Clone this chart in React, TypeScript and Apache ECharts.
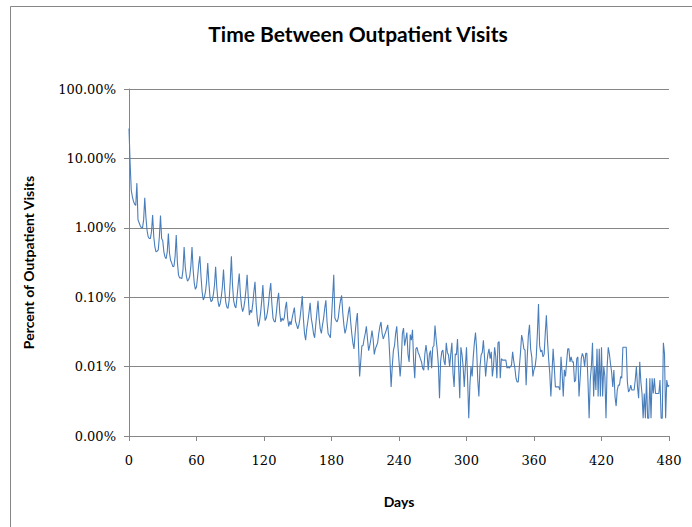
import React, { useEffect, useRef } from "react";
import * as echarts from "echarts";

// Percent of outpatient visits by days between visits (day 0 .. 480)
const pctDays000to059 = [
  27, 8.5, 3.5, 2.8, 2.4, 2.2, 2.1, 4.4, 1.3, 1.18,
  1.07, 1.0, 1.0, 1.3, 2.7, 1.45, 0.93, 0.75, 0.7, 0.7,
  0.88, 1.53, 0.75, 0.53, 0.45, 0.46, 0.48, 0.75, 1.5, 0.7,
  0.65, 0.45, 0.38, 0.36, 0.45, 0.83, 0.43, 0.34, 0.31, 0.275,
  0.28, 0.39, 0.79, 0.32, 0.21, 0.19, 0.19, 0.185, 0.25, 0.53,
  0.275, 0.2, 0.17, 0.18, 0.2, 0.28, 0.53, 0.25, 0.16, 0.13,
];
const pctDays060to119 = [
  0.14, 0.2, 0.3, 0.39, 0.2, 0.12, 0.091, 0.1, 0.12, 0.17,
  0.31, 0.16, 0.1, 0.086, 0.09, 0.11, 0.15, 0.275, 0.14, 0.09,
  0.073, 0.08, 0.1, 0.14, 0.25, 0.13, 0.085, 0.072, 0.069, 0.09,
  0.17, 0.39, 0.15, 0.09, 0.075, 0.07, 0.1, 0.15, 0.22, 0.11,
  0.075, 0.062, 0.07, 0.09, 0.13, 0.21, 0.1, 0.055, 0.065, 0.06,
  0.08, 0.12, 0.167, 0.08, 0.05, 0.038, 0.045, 0.06, 0.09, 0.15,
];
const pctDays120to179 = [
  0.075, 0.046, 0.05, 0.06, 0.08, 0.12, 0.16, 0.08, 0.05, 0.045,
  0.044, 0.06, 0.09, 0.116, 0.06, 0.044, 0.05, 0.046, 0.05, 0.07,
  0.086, 0.05, 0.038, 0.045, 0.04, 0.05, 0.06, 0.071, 0.045, 0.04,
  0.035, 0.04, 0.05, 0.07, 0.104, 0.05, 0.03, 0.024, 0.035, 0.045,
  0.06, 0.083, 0.05, 0.04, 0.03, 0.026, 0.04, 0.06, 0.089, 0.05,
  0.035, 0.03, 0.04, 0.05, 0.07, 0.09, 0.045, 0.03, 0.028, 0.026,
];
const pctDays180to239 = [
  0.05, 0.1, 0.21, 0.05, 0.046, 0.044, 0.05, 0.07, 0.09, 0.106,
  0.06, 0.04, 0.03, 0.035, 0.045, 0.06, 0.073, 0.045, 0.03, 0.022,
  0.018, 0.03, 0.045, 0.059, 0.02, 0.0072, 0.012, 0.02, 0.02, 0.025,
  0.03, 0.038, 0.025, 0.017, 0.02, 0.025, 0.033, 0.025, 0.015, 0.018,
  0.02, 0.022, 0.03, 0.038, 0.044, 0.03, 0.025, 0.028, 0.031, 0.035,
  0.04, 0.025, 0.012, 0.0051, 0.01, 0.017, 0.02, 0.03, 0.038, 0.02,
];
const pctDays240to299 = [
  0.012, 0.0072, 0.012, 0.03, 0.036, 0.02, 0.025, 0.031, 0.015, 0.0117,
  0.029, 0.024, 0.034, 0.012, 0.0068, 0.018, 0.019, 0.016, 0.0147, 0.013,
  0.0117, 0.0095, 0.0089, 0.0153, 0.0205, 0.015, 0.0089, 0.015, 0.017, 0.0095,
  0.019, 0.02, 0.039, 0.025, 0.0173, 0.0105, 0.0035, 0.012, 0.0163, 0.0173,
  0.012, 0.0105, 0.022, 0.016, 0.0147, 0.01, 0.015, 0.022, 0.008, 0.0051,
  0.0153, 0.0147, 0.025, 0.01, 0.0035, 0.019, 0.015, 0.01, 0.0051, 0.01,
];
const pctDays300to359 = [
  0.019, 0.0064, 0.0018, 0.0054, 0.01, 0.0072, 0.0138, 0.022, 0.031, 0.018,
  0.0064, 0.0037, 0.01, 0.0147, 0.016, 0.024, 0.0138, 0.0072, 0.011, 0.015,
  0.018, 0.013, 0.0163, 0.0072, 0.01, 0.019, 0.014, 0.0068, 0.022, 0.023,
  0.0068, 0.013, 0.0124, 0.0124, 0.0124, 0.0124, 0.0095, 0.01, 0.0095, 0.01,
  0.0105, 0.0163, 0.012, 0.0095, 0.0068, 0.006, 0.006, 0.01, 0.016, 0.0285,
  0.024, 0.018, 0.0173, 0.0054, 0.0138, 0.0285, 0.04, 0.018, 0.0138, 0.0072,
];
const pctDays360to419 = [
  0.009, 0.01, 0.0138, 0.03, 0.08, 0.02, 0.0163, 0.0173, 0.0138, 0.015,
  0.03, 0.055, 0.024, 0.013, 0.008, 0.0037, 0.008, 0.018, 0.01, 0.0051,
  0.0051, 0.0051, 0.0051, 0.0046, 0.0138, 0.008, 0.0037, 0.009, 0.0072, 0.0117,
  0.018, 0.018, 0.0117, 0.0138, 0.0117, 0.0117, 0.006, 0.0064, 0.013, 0.0138,
  0.0037, 0.0068, 0.013, 0.0155, 0.0138, 0.01, 0.0155, 0.0155, 0.006, 0.0018,
  0.0064, 0.01, 0.022, 0.0037, 0.01, 0.0046, 0.018, 0.0037, 0.018, 0.0037,
];
const pctDays420to480 = [
  0.019, 0.0037, 0.01, 0.0072, 0.0018, 0.01, 0.019, 0.0153, 0.011, 0.0083,
  0.0051, 0.0089, 0.0037, 0.0027, 0.0046, 0.0054, 0.0054, 0.0072, 0.0068, 0.019,
  0.019, 0.019, 0.019, 0.006, 0.0043, 0.0046, 0.0054, 0.0046, 0.0046, 0.0046,
  0.0064, 0.01, 0.0051, 0.0035, 0.0117, 0.006, 0.0041, 0.0018, 0.0041, 0.0018,
  0.0068, 0.0018, 0.0018, 0.0068, 0.0018, 0.0068, 0.0041, 0.0068, 0.0041, 0.0041,
  0.0041, 0.0041, 0.0064, 0.0018, 0.0018, 0.022, 0.0153, 0.0018, 0.0064, 0.0051,
  0.0054,
];

const dayTicks = [0, 60, 120, 180, 240, 300, 360, 420, 480];
const pctTicks = [0.001, 0.01, 0.1, 1, 10, 100];

const titleText = "Time Between Outpatient Visits";
const xTitle = "Days";
const yTitle = "Percent of Outpatient Visits";

export default function App() {
  const ref = useRef<HTMLDivElement>(null);

  useEffect(() => {
    if (!ref.current) return;
    const chart = echarts.init(ref.current, null, { renderer: "svg" });
    const allPct = [
      ...pctDays000to059,
      ...pctDays060to119,
      ...pctDays120to179,
      ...pctDays180to239,
      ...pctDays240to299,
      ...pctDays300to359,
      ...pctDays360to419,
      ...pctDays420to480,
    ];
    const data = allPct.map((v, i) => [i, v]);
    const gray = "#868686";
    chart.setOption({
      animation: false,
      backgroundColor: "#ffffff",
      graphic: [
        {
          type: "rect",
          silent: true,
          z: -10,
          shape: { x: 10.5, y: 6.5, width: 720, height: 560 },
          style: { fill: "none", stroke: gray, lineWidth: 1 },
        },
        {
          type: "text",
          x: 358,
          y: 33,
          style: {
            text: titleText,
            fontFamily: "Lato",
            fontWeight: "bold",
            fontSize: 21,
            fill: "#000000",
            align: "center",
            verticalAlign: "middle",
          },
        },
      ],
      grid: { left: 129, right: 23, top: 89, bottom: 91, containLabel: false },
      xAxis: {
        type: "value",
        min: dayTicks[0],
        max: dayTicks[dayTicks.length - 1],
        interval: 60,
        name: xTitle,
        nameLocation: "middle",
        nameGap: 58,
        nameTextStyle: { fontFamily: "Lato", fontWeight: "bold", fontSize: 14, color: "#000" },
        axisLine: { show: true, lineStyle: { color: gray, width: 1 } },
        axisTick: { show: true, length: 5, lineStyle: { color: gray } },
        axisLabel: {
          margin: 18,
          fontFamily: "DejaVu Serif",
          fontSize: 13,
          color: "#000",
        },
        splitLine: { show: false },
      },
      yAxis: {
        type: "log",
        logBase: 10,
        min: pctTicks[0],
        max: pctTicks[pctTicks.length - 1],
        name: yTitle,
        nameLocation: "middle",
        nameGap: 94,
        nameTextStyle: { fontFamily: "Lato", fontWeight: "bold", fontSize: 14, color: "#000" },
        axisLine: { show: true, lineStyle: { color: gray, width: 1 } },
        axisTick: { show: true, length: 5, lineStyle: { color: gray } },
        axisLabel: {
          margin: 13,
          fontFamily: "DejaVu Serif",
          fontSize: 13,
          color: "#000",
          formatter: (v: number) => v.toFixed(2) + "%",
        },
        splitLine: { show: true, lineStyle: { color: gray, width: 1 } },
      },
      series: [
        {
          type: "line",
          data,
          showSymbol: false,
          symbol: "none",
          lineStyle: { color: "#4A7EBB", width: 1.1 },
          itemStyle: { color: "#4A7EBB" },
        },
      ],
    });
    return () => chart.dispose();
  }, []);

  return (
    <div
      ref={ref}
      style={{ position: "fixed", left: 0, top: 0, width: 692, height: 527, background: "#fff" }}
    />
  );
}
